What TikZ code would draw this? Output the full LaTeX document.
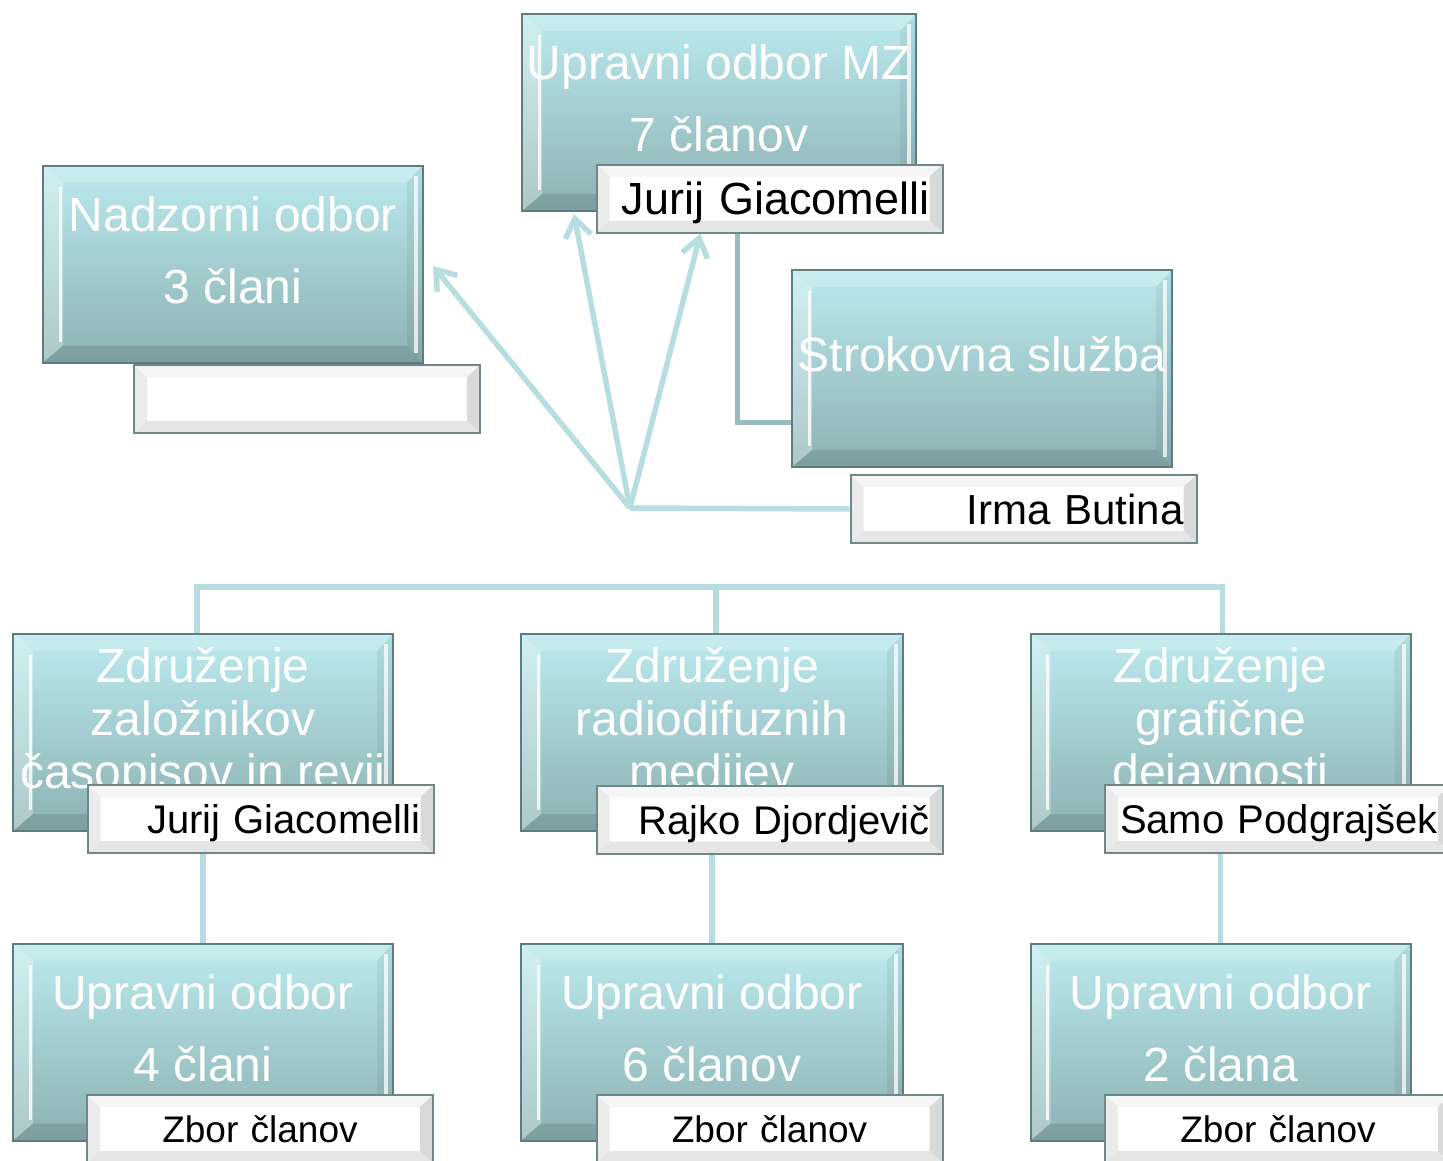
\documentclass[tikz,border=0pt]{standalone}
\usepackage{fontspec}
\setmainfont{Liberation Sans}
\usetikzlibrary{arrows.meta,backgrounds}

\definecolor{boxtop}{HTML}{BBEAEE}
\definecolor{boxbot}{HTML}{8CB1B3}
\definecolor{boxline}{HTML}{5F7C7E}
\definecolor{nameline}{HTML}{6E8889}
\definecolor{linkcol}{HTML}{B7DDE0}
\definecolor{linkdark}{HTML}{9BBCBE}

\tikzset{
	unit/.style={draw=boxline, line width=2pt, top color=boxtop, bottom color=boxbot,
		minimum width=380pt, minimum height=197pt, inner sep=0pt,
		path picture={
			\coordinate (pA) at (path picture bounding box.north west);
			\coordinate (pB) at (path picture bounding box.north east);
			\coordinate (pC) at (path picture bounding box.south east);
			\coordinate (pD) at (path picture bounding box.south west);
			\coordinate (pa) at ([xshift=20pt,yshift=-17pt]pA);
			\coordinate (pb) at ([xshift=-16pt,yshift=-17pt]pB);
			\coordinate (pc) at ([xshift=-16pt,yshift=17pt]pC);
			\coordinate (pd) at ([xshift=20pt,yshift=17pt]pD);
			\fill[white, opacity=.18] (pA) -- (pa) -- (pb) -- (pB) -- cycle;
			\fill[white, opacity=.3] (pA) -- (pa) -- (pd) -- (pD) -- cycle;
			\fill[black, opacity=.06] (pB) -- (pb) -- (pc) -- (pC) -- cycle;
			\fill[black, opacity=.1] (pD) -- (pd) -- (pc) -- (pC) -- cycle;
			\draw[white, line width=3pt, opacity=.8] ([xshift=-3pt,yshift=-4pt]pa) -- ([xshift=-3pt,yshift=4pt]pd);
			\draw[white, line width=4pt, opacity=.75] ([xshift=-7pt,yshift=-10pt]pB) -- ([xshift=-7pt,yshift=10pt]pC);
		}},
	boxtext/.style={text=white, align=center, inner sep=0pt, font=\fontsize{48pt}{72pt}\selectfont},
	namebox/.style={draw=nameline, line width=2pt, fill=white, minimum height=68pt,
		text width=320pt, align=right, inner xsep=13pt, inner ysep=0pt, text depth=0pt,
		font=\fontsize{40pt}{48pt}\selectfont,
		path picture={
			\coordinate (pA) at (path picture bounding box.north west);
			\coordinate (pB) at (path picture bounding box.north east);
			\coordinate (pC) at (path picture bounding box.south east);
			\coordinate (pD) at (path picture bounding box.south west);
			\coordinate (pa) at ([xshift=13pt,yshift=-12pt]pA);
			\coordinate (pb) at ([xshift=-13pt,yshift=-12pt]pB);
			\coordinate (pc) at ([xshift=-13pt,yshift=12pt]pC);
			\coordinate (pd) at ([xshift=13pt,yshift=12pt]pD);
			\fill[black!4] (pA) -- (pa) -- (pb) -- (pB) -- cycle;
			\fill[black!8] (pA) -- (pa) -- (pd) -- (pD) -- cycle;
			\fill[black!15] (pB) -- (pb) -- (pc) -- (pC) -- cycle;
			\fill[black!10] (pD) -- (pd) -- (pc) -- (pC) -- cycle;
		}},
	zbor/.style={align=center, font=\fontsize{37pt}{44pt}\selectfont},
	link/.style={draw=linkcol, line width=5.5pt},
	barbed/.style={-{Straight Barb[length=18pt,width=26pt]}}
}

\begin{document}
\begin{tikzpicture}[x=1pt, y=-1pt]
	\useasboundingbox (0,0) rectangle (1443,1160);

	% upper part
	\node[unit, minimum width=394pt] (mz) at (719,112.5) {};
	\node[boxtext] (mz-t) at ([yshift=14pt]mz.center) {Upravni odbor MZ\\7 članov};
	\node[namebox, font=\fontsize{45pt}{54pt}\selectfont] (mz-n) at (769.5,198.5) {Jurij Giacomelli};

	\node[unit] (nadzorni) at (233,264) {};
	\node[boxtext] (nadzorni-t) at ([yshift=14pt]nadzorni.center) {Nadzorni odbor\\3 člani};
	\node[namebox] (nadzorni-n) at (307,399) {};

	\node[unit] (strok) at (982,368.5) {};
	\node[boxtext] (strok-t) at ([yshift=14pt]strok.center) {Strokovna služba};
	\node[namebox, font=\fontsize{42pt}{50pt}\selectfont] (strok-n) at (1023.5,509) {Irma Butina};

	\coordinate (hub) at (630,508);

	% associations
	\node[unit] (zal) at (203,732.5) {};
	\node[boxtext, font=\fontsize{48pt}{53pt}\selectfont] (zal-t) at ([yshift=10pt]zal.center) {Združenje\\založnikov\\časopisov in revij};
	\node[namebox] (zal-n) at (260.5,819) {Jurij Giacomelli};

	\node[unit, minimum width=382pt] (rad) at (712,732.5) {};
	\node[boxtext, font=\fontsize{48pt}{53pt}\selectfont] (rad-t) at ([yshift=10pt]rad.center) {Združenje\\radiodifuznih\\medijev};
	\node[namebox] (rad-n) at (769.5,819.5) {Rajko Djordjevič};

	\node[unit] (graf) at (1220.5,732.5) {};
	\node[boxtext, font=\fontsize{48pt}{53pt}\selectfont] (graf-t) at ([yshift=10pt]graf.center) {Združenje\\grafične\\dejavnosti};
	\node[namebox] (graf-n) at (1278,819) {Samo Podgrajšek};

	% boards
	\node[unit] (zal-u) at (203,1042) {};
	\node[boxtext] (zal-ut) at ([yshift=14pt]zal-u.center) {Upravni odbor\\4 člani};
	\node[namebox, zbor] (zal-z) at (260,1129) {Zbor članov};

	\node[unit, minimum width=382pt] (rad-u) at (712,1042) {};
	\node[boxtext] (rad-ut) at ([yshift=14pt]rad-u.center) {Upravni odbor\\6 članov};
	\node[namebox, zbor] (rad-z) at (769.5,1129) {Zbor članov};

	\node[unit] (graf-u) at (1220.5,1042) {};
	\node[boxtext] (graf-ut) at ([yshift=14pt]graf-u.center) {Upravni odbor\\2 člana};
	\node[namebox, zbor] (graf-z) at (1278,1129) {Zbor članov};

	\begin{scope}[on background layer]
		\draw[link] (strok-n.west) -- (hub);
		\draw[link, barbed] (hub) -- ([xshift=9pt,yshift=-2pt]nadzorni.east);
		\draw[link, barbed] (hub) -- ([xshift=53pt,yshift=-2pt]mz.south west);
		\draw[link, barbed] (hub) -- ([xshift=105pt]mz-n.south west);
		\draw[link, draw=linkdark] ([xshift=-32pt]mz-n.south) |- ([yshift=-54pt]strok.west);

		\draw[link] ([xshift=-6pt]zal.north) -- ++(0,-46) -| ([xshift=2pt]graf.north);
		\draw[link] ([xshift=4pt]rad.north) -- ++(0,-46);
		\draw[link] (zal) -- (zal-u);
		\draw[link] (rad) -- (rad-u);
		\draw[link] (graf) -- (graf-u);
	\end{scope}
\end{tikzpicture}
\end{document}
